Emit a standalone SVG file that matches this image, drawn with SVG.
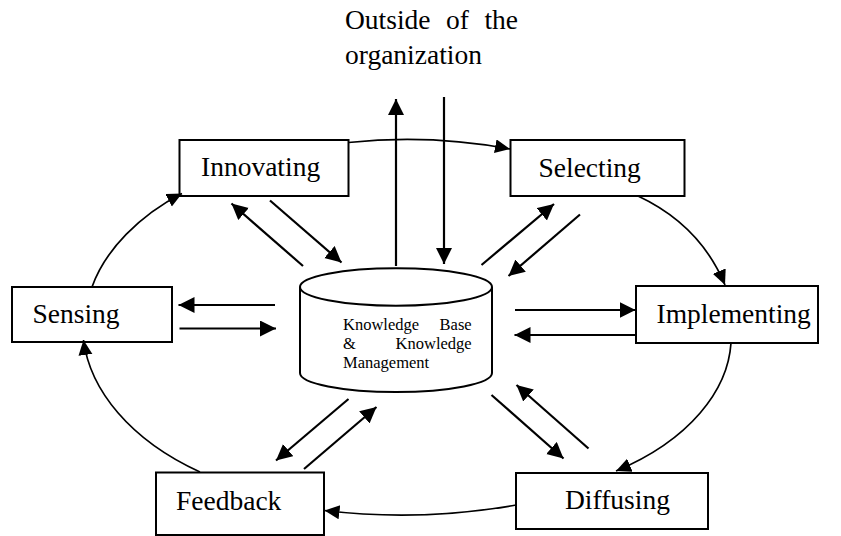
<svg xmlns="http://www.w3.org/2000/svg" width="841" height="536" viewBox="0 0 841 536">
  <style>
    .box { fill: #fff; stroke: #000; stroke-width: 2; }
    .label { font-family: "Liberation Serif", "Times New Roman", serif; font-size: 27.5px; fill: #000; }
    .small { font-family: "Liberation Serif", "Times New Roman", serif; font-size: 16.5px; fill: #000; }
    .line { fill: none; stroke: #000; stroke-width: 2.2; marker-end: url(#head); }
    .curve { fill: none; stroke: #000; stroke-width: 1.7; marker-end: url(#head2); }
    .cyl { fill: #fff; stroke: #000; stroke-width: 2; }
  </style>
  <defs>
    <marker id="head" markerUnits="userSpaceOnUse" markerWidth="18" markerHeight="18" refX="16" refY="8" orient="auto">
      <path d="M0,0 L16,8 L0,16 z" fill="#000"/>
    </marker>
    <marker id="head2" markerUnits="userSpaceOnUse" markerWidth="17" markerHeight="17" refX="15" refY="7" orient="auto">
      <path d="M0,0 L15,7 L0,14 z" fill="#000"/>
    </marker>
  </defs>

  <rect width="841" height="536" fill="#fff"/>

  <!-- external environment label -->
  <g id="outside">
    <text class="label" x="345" y="28.5">Outside</text>
    <text class="label" x="457.5" y="28.5" text-anchor="middle">of</text>
    <text class="label" x="518" y="28.5" text-anchor="end">the</text>
    <text class="label" x="345" y="63.5">organization</text>
  </g>

  <!-- central knowledge store -->
  <g id="knowledge-base">
    <path class="cyl" d="M300,287 L300,373 A96,19 0 0 0 492,373 L492,287"/>
    <ellipse class="cyl" cx="396" cy="287" rx="96" ry="18.7"/>
    <text class="small" x="343" y="330">Knowledge</text>
    <text class="small" x="471.7" y="330" text-anchor="end">Base</text>
    <text class="small" x="343" y="349.3">&amp;</text>
    <text class="small" x="471.7" y="349.3" text-anchor="end">Knowledge</text>
    <text class="small" x="343" y="368.3">Management</text>
  </g>

  <g id="innovating">
    <rect class="box" x="179.5" y="140" width="169" height="56"/>
    <text class="label" x="201" y="176">Innovating</text>
  </g>
  <g id="selecting">
    <rect class="box" x="510.5" y="140" width="174" height="56"/>
    <text class="label" x="538.5" y="177">Selecting</text>
  </g>
  <g id="implementing">
    <rect class="box" x="636" y="286" width="182" height="57"/>
    <text class="label" x="656.5" y="322.5">Implementing</text>
  </g>
  <g id="sensing">
    <rect class="box" x="12" y="287" width="160" height="55"/>
    <text class="label" x="32.5" y="323.3">Sensing</text>
  </g>
  <g id="feedback">
    <rect class="box" x="156" y="472.5" width="168" height="62.5"/>
    <text class="label" x="176" y="510">Feedback</text>
  </g>
  <g id="diffusing">
    <rect class="box" x="516" y="473" width="192" height="56"/>
    <text class="label" x="565" y="509.3">Diffusing</text>
  </g>

  <g id="connectors">
    <!-- exchange with the outside -->
    <line class="line" x1="396" y1="266" x2="396" y2="99"/>
    <line class="line" x1="444" y1="97" x2="444" y2="264"/>

    <!-- node <-> knowledge base pairs -->
    <line class="line" x1="303" y1="266" x2="231.5" y2="203.5"/>
    <line class="line" x1="270" y1="200.5" x2="341.5" y2="262.5"/>

    <line class="line" x1="481.5" y1="265" x2="554" y2="204"/>
    <line class="line" x1="580" y1="214.5" x2="508.5" y2="276"/>

    <line class="line" x1="515" y1="310" x2="635.5" y2="310"/>
    <line class="line" x1="636" y1="335" x2="514.5" y2="335"/>

    <line class="line" x1="275" y1="305" x2="178.5" y2="305"/>
    <line class="line" x1="179.5" y1="328.5" x2="276" y2="328.5"/>

    <line class="line" x1="348.5" y1="399" x2="276" y2="460.5"/>
    <line class="line" x1="304" y1="469" x2="376.5" y2="407"/>

    <line class="line" x1="491.5" y1="395" x2="563.5" y2="458.5"/>
    <line class="line" x1="588.5" y1="448.5" x2="516.5" y2="385"/>

    <!-- outer cycle -->
    <path class="curve" d="M348.5,142.5 Q430,134 510,149"/>
    <path class="curve" d="M638,196 Q700,225 725,285"/>
    <path class="curve" d="M731,343 C728,390 690,440 616,471"/>
    <path class="curve" d="M516,505 Q420,522 324.5,510.5"/>
    <path class="curve" d="M200,472 C130,440 90,390 83.5,340"/>
    <path class="curve" d="M92,287 C105,250 140,215 182,193.5"/>
  </g>
</svg>
